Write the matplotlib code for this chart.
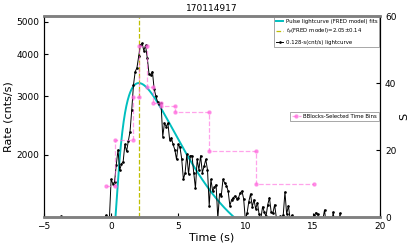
import numpy as np
import matplotlib
matplotlib.use("Agg")
from matplotlib import pyplot as plt

# 0.128 s binned lightcurve (cnts/s), first bin at t = -5 s
BIN_SIZE = 0.128
T_START = -5.0
rate = [
    1180, 1150, 1210, 1130, 1190, 1240, 1160, 1120, 1200, 1170,
    1312, 1230, 1140, 1190, 1160, 1220, 1100, 1180, 1250, 1150,
    1200, 1130, 1170, 1240, 1190, 1120, 1210, 1160, 1230, 1140,
    1190, 1250, 1170, 1200, 1130, 1220, 1320, 1250, 1290, 1690,
    1640, 1660, 1870, 2070, 1800, 1880, 1910, 2150, 2050, 2200,
    2350, 2730, 3240, 3550, 3640, 3940, 4260, 4310, 4100, 4250,
    3900, 3500, 3470, 3550, 3150, 3000, 2880, 2830, 2860, 2270,
    2490, 2430, 2490, 2220, 2250, 2150, 2075, 1940, 2150, 2110,
    1950, 1690, 1770, 2010, 1750, 1990, 1990, 1770, 1590, 1940,
    1806, 1990, 1770, 1850, 1940, 1806, 1410, 1690, 1560, 1600,
    1630, 1290, 1530, 1510, 1690, 1650, 1620, 1560, 1410, 1470,
    1490, 1510, 1480, 1490, 1540, 1560, 1480, 1280, 1340, 1450,
    1530, 1400, 1470, 1380, 1440, 1330, 1290, 1400, 1350, 1310,
    1420, 1490, 1350, 1340, 1420, 1300, 1280, 1310, 1290, 1320,
    1550, 1330, 1410, 1290, 1320, 1250, 1200, 1180, 1260, 1150,
    1210, 1230, 1170, 1240, 1190, 1260, 1220, 1320, 1345, 1330,
    1250, 1200, 1280, 1370, 1230, 1180, 1250, 1210, 1350, 1240,
    1190, 1220, 1340, 1200, 1160, 1210,
]
time = T_START + BIN_SIZE * np.arange(len(rate))

# FRED (Norris) pulse fit parameters
FRED_TS = -0.25
FRED_TAU1 = 2.0
FRED_TAU2 = 2.65
FRED_AMP = 2280.0
FRED_BG = 1000.0
T_PEAK = 2.05
T_PEAK_ERR = 0.14

# Bayesian blocks: edges (s) and significance S of each block
block_start = [-0.39, 0.30, 1.62, 2.03, 2.66, 3.10, 3.69, 4.78, 7.24, 10.74]
block_stop = [0.30, 1.62, 2.03, 2.66, 3.10, 3.69, 4.78, 7.24, 10.74, 15.10]
block_s = [9.3, 22.9, 35.9, 51.0, 38.8, 33.9, 33.1, 31.4, 19.7, 9.9]

PINK = "#ff66dd"

fig = plt.figure(figsize=(4.15, 2.49), dpi=100)
ax = fig.add_axes([0.106, 0.1285, 0.81, 0.807])

# Model curve
t_model = np.linspace(FRED_TS + 0.01, 12, 600)
x = t_model - FRED_TS
lam = np.exp(2 * np.sqrt(FRED_TAU1 / FRED_TAU2))
fred = FRED_BG + FRED_AMP * lam * np.exp(-FRED_TAU1 / x - x / FRED_TAU2)

ax.plot(t_model, fred, color="c", lw=1.4, label="Pulse lightcurve (FRED model) fits")
ax.axvline(T_PEAK, color="y", ls="--", lw=0.9,
           label="$t_p$(FRED model)=%.2f$\\pm$%.2f" % (T_PEAK, T_PEAK_ERR))
ax.plot(time, rate, color="k", lw=0.7, marker=".", ms=1.8,
        label="0.128-s(cnt/s) lightcurve")

ax.set_yscale("log")
ax.set_xlim(-5, 20)
ax.set_ylim(1305, 5200)
ax.set_yticks([2000, 3000, 4000, 5000])
ax.set_yticklabels(["2000", "3000", "4000", "5000"])
ax.minorticks_off()
ax.set_xticks([-5, 0, 5, 10, 15, 20])
ax.set_xticklabels(["\u22125", "0", "5", "10", "15", "20"])
ax.tick_params(direction="in", labelsize=6.5, length=3)
ax.set_xlabel("Time (s)", fontsize=8, labelpad=1)
ax.set_ylabel("Rate (cnts/s)", fontsize=8, labelpad=2)
ax.set_title("170114917", fontsize=6.5, pad=4)

leg = ax.legend(loc="upper right", fontsize=3.9, handlelength=1.2,
                handletextpad=0.5, borderaxespad=0.15, framealpha=1,
                fancybox=False)
leg.get_frame().set_edgecolor("#999999")
leg.get_frame().set_linewidth(0.6)

# Bayesian blocks on a twin axis
ax2 = ax.twinx()
bx = []
by = []
for s, e, v in zip(block_start, block_stop, block_s):
    bx += [s, e]
    by += [v, v]
ax2.plot(bx, by, color=PINK, alpha=0.6, ls="--", lw=0.9, marker="o", ms=2.2,
         mec=PINK, label="BBlocks-Selected Time Bins")
ax2.set_ylim(0, 60)
ax2.set_yticks([0, 20, 40, 60])
ax2.tick_params(direction="in", labelsize=6.5, length=3)
ax2.set_ylabel("S", fontsize=8, labelpad=2)

leg2 = ax2.legend(loc="center right", fontsize=3.9, handlelength=1.6,
                  handletextpad=0.5, borderaxespad=0.15, framealpha=1,
                  fancybox=False)
leg2.get_frame().set_edgecolor("#999999")
leg2.get_frame().set_linewidth(0.6)

for a in (ax, ax2):
    a.spines["top"].set_color("#808080")
    a.spines["bottom"].set_color("#808080")
    a.spines["top"].set_linewidth(1.8)
    a.spines["bottom"].set_linewidth(1.8)

fig.savefig("out.png", dpi=100, facecolor="white")
